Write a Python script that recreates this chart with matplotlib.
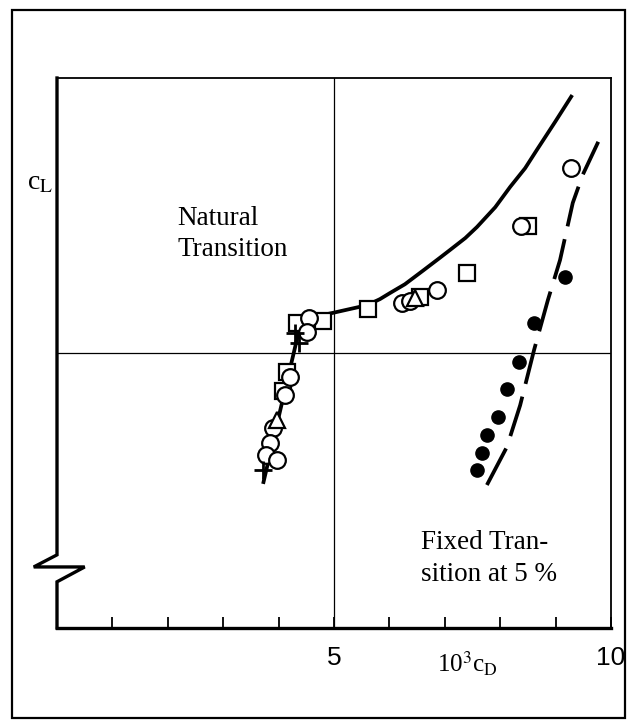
import matplotlib
matplotlib.use("Agg")
import matplotlib.pyplot as plt
from matplotlib.patches import Rectangle
from matplotlib.lines import Line2D

plt.rcParams['mathtext.fontset'] = 'stix'

# ---- data (cD in 1e-3, cL in arbitrary units) ----
nat_curve_x = [3.72, 4.03, 4.35, 4.40, 4.57, 4.98, 5.29, 5.60, 5.83, 6.01, 6.28,
               6.61, 6.91, 7.09, 7.37, 7.58, 7.91, 8.18, 8.45, 8.66, 8.99, 9.30]
nat_curve_y = [0.262, 0.396, 0.533, 0.556, 0.564, 0.573, 0.580, 0.587, 0.598, 0.609, 0.625,
               0.650, 0.673, 0.687, 0.709, 0.729, 0.765, 0.802, 0.836, 0.869, 0.920, 0.969]

fix_curve_x = [7.76, 8.12, 8.36, 8.61, 8.86, 9.08, 9.31, 9.49, 9.77]
fix_curve_y = [0.260, 0.329, 0.405, 0.505, 0.596, 0.669, 0.773, 0.824, 0.884]

sq_x = [4.33, 4.80, 4.15, 4.08, 5.61, 6.55, 7.40, 8.50]
sq_y = [0.555, 0.558, 0.465, 0.431, 0.580, 0.602, 0.645, 0.731]

circ_x = [4.55, 4.51, 4.21, 4.12, 3.90, 3.84, 3.77, 3.97, 6.23, 6.37, 6.86, 8.38, 9.28]
circ_y = [0.564, 0.538, 0.456, 0.424, 0.364, 0.336, 0.315, 0.305, 0.591, 0.595, 0.615, 0.731, 0.836]

tri_x = [3.97, 6.46]
tri_y = [0.378, 0.600]

plus_x = [4.30, 4.37, 3.72]
plus_y = [0.536, 0.518, 0.287]

dot_x = [9.17, 8.61, 8.34, 8.12, 7.96, 7.76, 7.67, 7.58]
dot_y = [0.638, 0.555, 0.484, 0.435, 0.384, 0.351, 0.318, 0.287]

minor_ticks = [1, 2, 3, 4, 6, 7, 8, 9]
labeled_ticks = [5, 10]
labeled_tick_text = ["5", "10"]

# ---- figure ----
W, H = 631, 724
fig = plt.figure(figsize=(W / 100, H / 100), dpi=100)
fig.patches.append(Rectangle((12 / W, 1 - 718 / H), (625 - 12) / W, (718 - 10) / H,
                             transform=fig.transFigure, fill=False, lw=1.6, ec='black'))

ax = fig.add_axes([57 / W, 1 - 628 / H, (611 - 57) / W, (628 - 78) / H])
ax.set_xlim(0, 10)
ax.set_ylim(0, 1)

# spines
ax.spines['left'].set_visible(False)
ax.spines['bottom'].set_linewidth(2.4)
ax.spines['top'].set_linewidth(1.3)
ax.spines['right'].set_linewidth(1.3)

# broken left axis
brk = Line2D([0, 0, -0.042, 0.05, 0, 0], [1, 0.133, 0.111, 0.111, 0.084, 0],
             transform=ax.transAxes, clip_on=False, color='black', lw=2.4,
             solid_joinstyle='miter')
ax.add_line(brk)

# grid lines
ax.axvline(5, color='black', lw=0.9)
ax.axhline(0.5, color='black', lw=0.9)

# ticks
ax.set_xticks(minor_ticks + labeled_ticks)
ax.set_xticklabels(["" for _ in minor_ticks] + labeled_tick_text,
                   fontfamily='Liberation Sans', fontsize=19)
ax.tick_params(axis='x', direction='in', length=8, width=1.3, pad=13)
ax.set_yticks([])

# curves
ax.plot(nat_curve_x, nat_curve_y, color='black', lw=2.7, solid_capstyle='butt',
        solid_joinstyle='round')
ax.plot(fix_curve_x, fix_curve_y, color='black', lw=2.7, linestyle=(0, (11, 3.5)),
        dash_capstyle='butt')

mk = dict(linestyle='none', mfc='white', mec='black', mew=1.6, zorder=3)
ax.plot(sq_x, sq_y, marker='s', ms=11, **mk)
ax.plot(circ_x, circ_y, marker='o', ms=12, **mk)
ax.plot(tri_x, tri_y, marker='^', ms=11, **mk)
ax.plot(plus_x, plus_y, marker='+', ms=13, linestyle='none', mec='black', mew=2.0, zorder=4)
ax.plot(dot_x, dot_y, marker='o', ms=9.5, linestyle='none', mfc='black', mec='black', zorder=3)

# texts
serif = 'Liberation Serif'
ax.text(2.17, 0.768, "Natural\nTransition", fontfamily=serif, fontsize=19.5,
        ha='left', va='top', linespacing=1.35)
ax.text(6.57, 0.178, "Fixed Tran-\nsition at 5 %", fontfamily=serif, fontsize=19.5,
        ha='left', va='top', linespacing=1.35)
ax.text(-0.3, 0.81, r"c$_\mathrm{L}$", fontfamily=serif, fontsize=20,
        ha='center', va='center', clip_on=False)
ax.text(7.4, -0.065, r"10$^3$c$_\mathrm{D}$", fontfamily=serif, fontsize=18,
        ha='center', va='center', clip_on=False)

fig.savefig("out.png", dpi=100)
